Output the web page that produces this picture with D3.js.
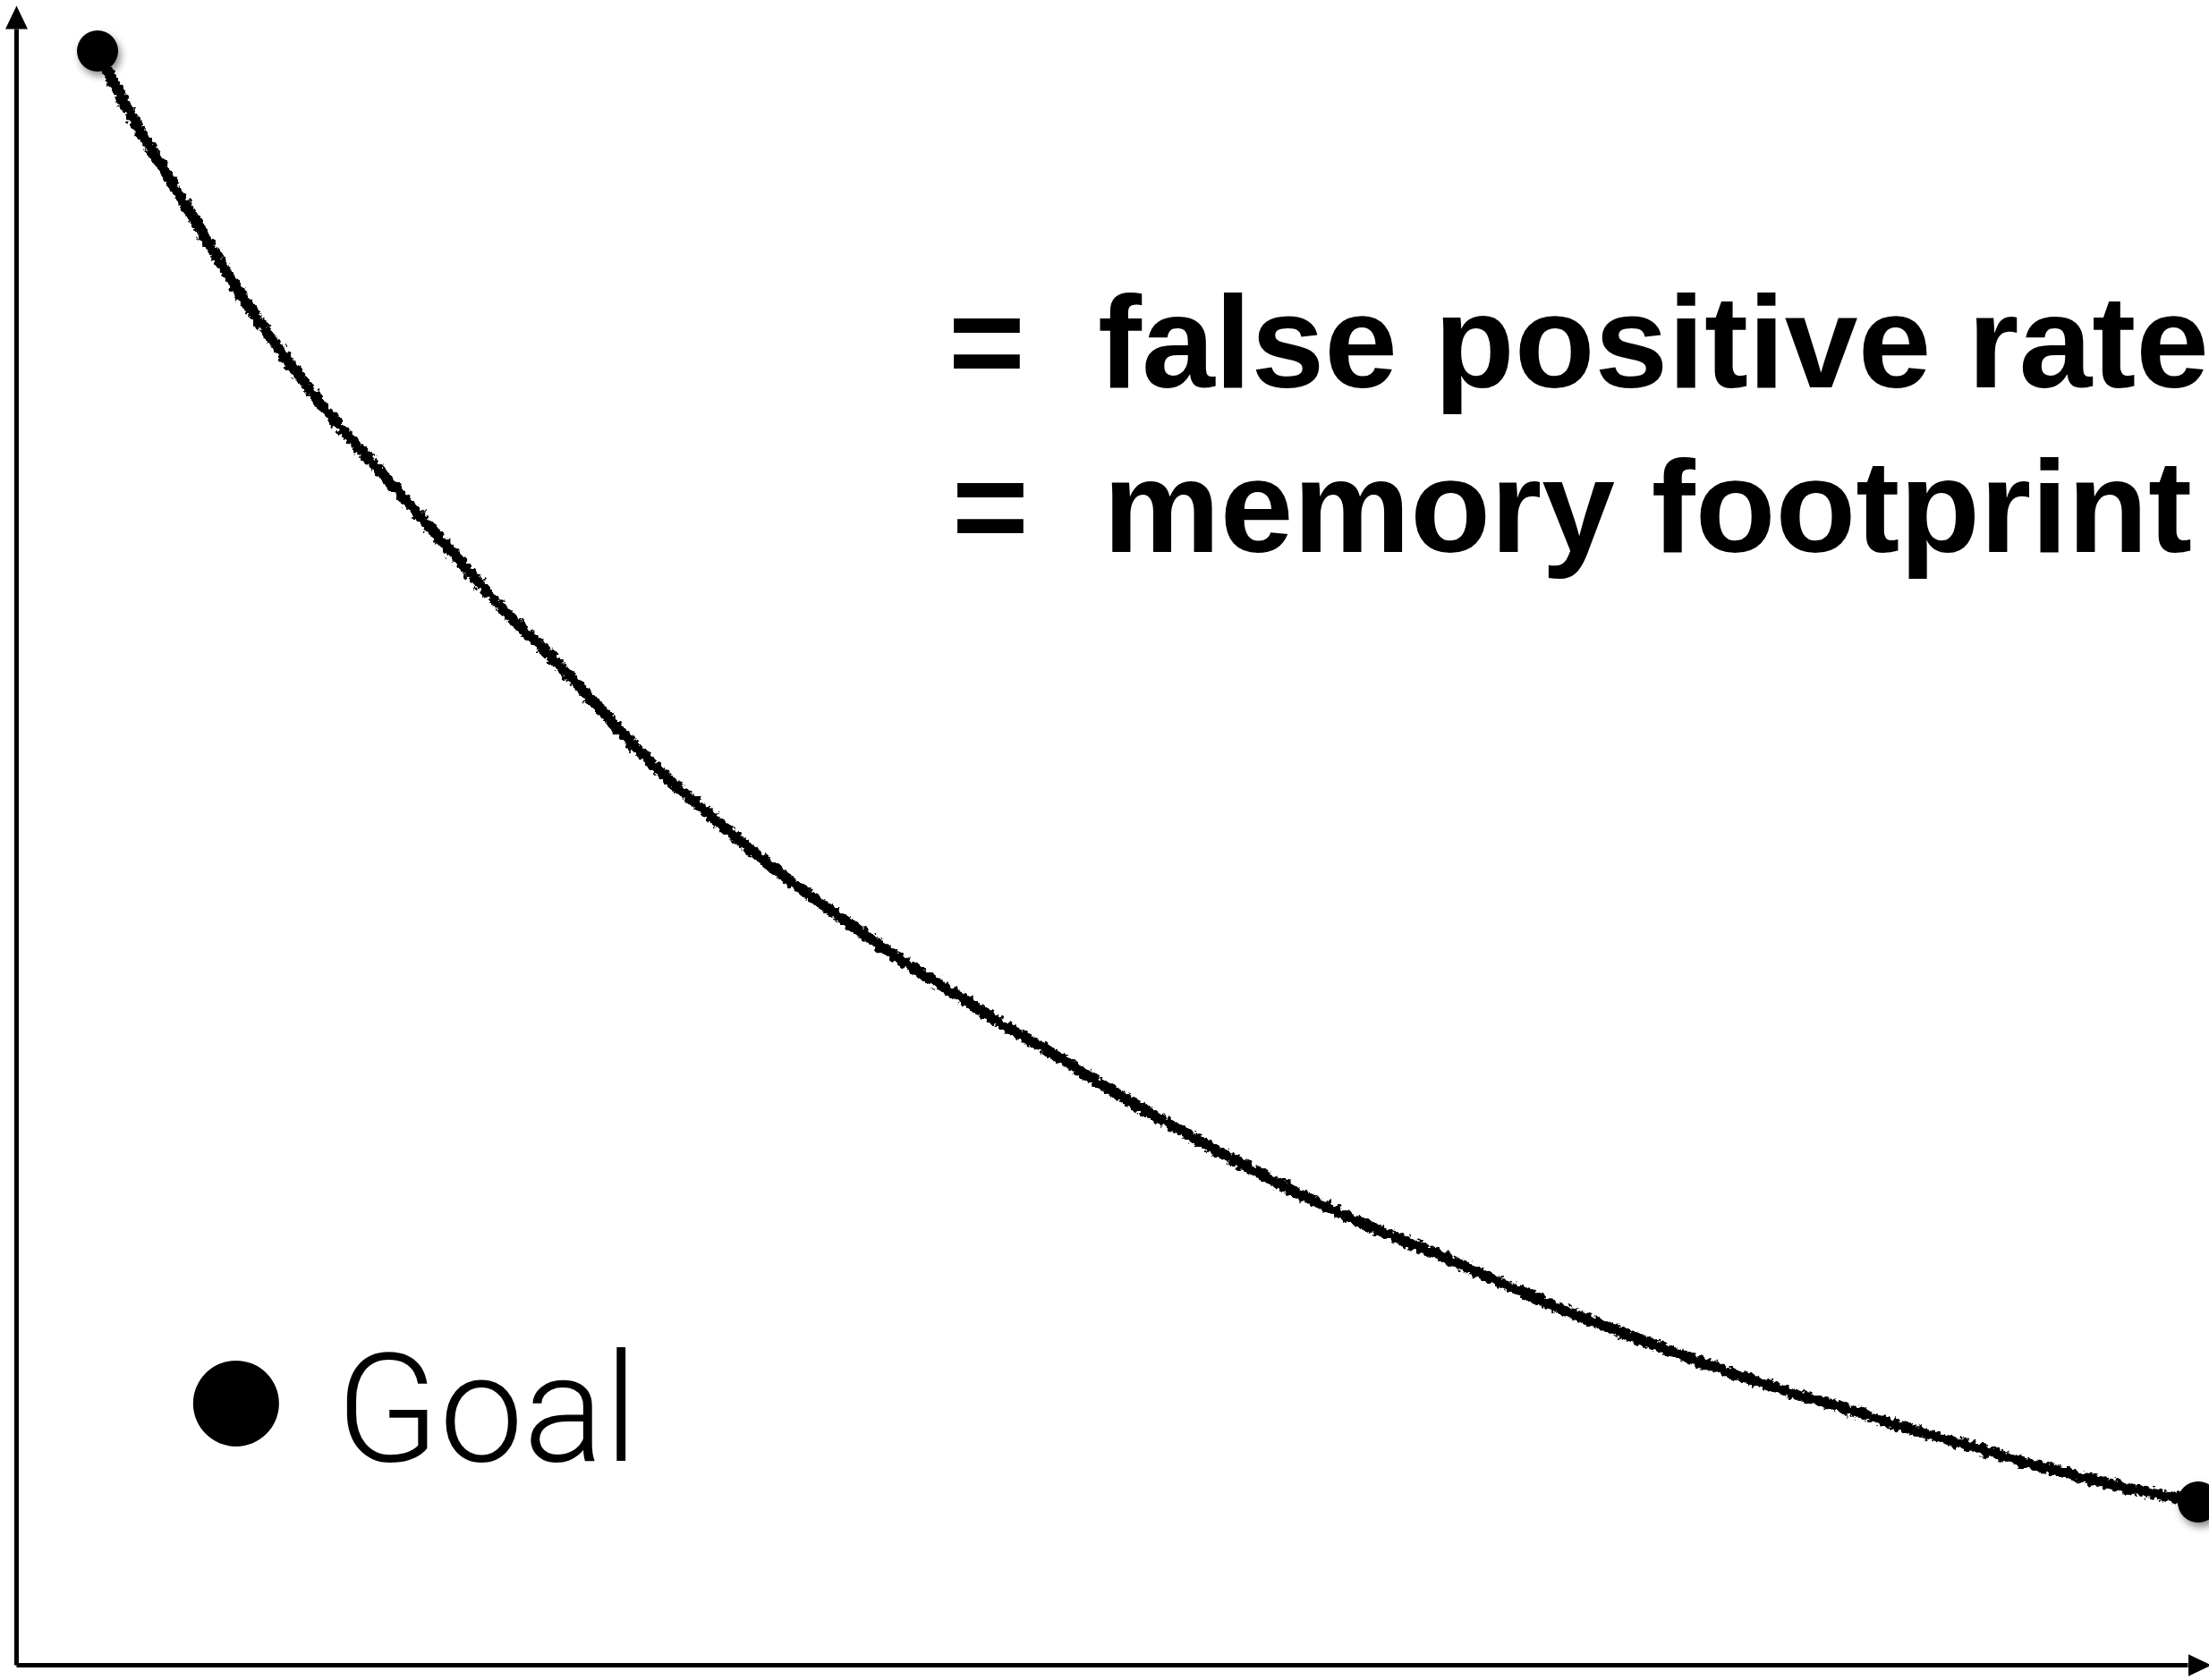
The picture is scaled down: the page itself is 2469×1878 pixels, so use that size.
<!DOCTYPE html>
<html>
<head>
<meta charset="utf-8">
<script src="https://cdn.jsdelivr.net/npm/d3@7"></script>
<style>
  html, body { margin: 0; padding: 0; background: #fff; overflow: hidden; }
  svg { display: block; }
</style>
</head>
<body>
<script>
// ---- data (abstract units, 0..100 on both axes) ----
const curveX = [3.75, 4.61, 5.85, 7.50, 9.15, 10.92, 12.73, 14.38, 16.44, 18.50, 20.97, 22.62, 24.80, 26.74, 29.46, 32.22, 34.98, 37.70, 40.46, 43.22, 45.41, 47.34, 50.06, 52.82, 55.58, 58.30, 61.06, 63.82, 65.93, 67.94, 70.66, 73.42, 76.18, 78.90, 81.66, 84.43, 87.14, 89.90, 92.67, 95.39, 98.15, 100.49];
const curveY = [98.63, 96.39, 93.44, 89.89, 86.28, 82.61, 79.33, 76.49, 73.43, 70.37, 66.65, 64.24, 61.40, 58.61, 54.84, 51.61, 48.61, 45.93, 43.36, 41.01, 39.15, 37.67, 35.43, 33.24, 31.22, 29.31, 27.56, 25.97, 24.82, 23.62, 22.03, 20.56, 19.19, 17.88, 16.68, 15.58, 14.43, 13.40, 12.30, 11.37, 10.55, 9.95];
const endPoints = [{x: 3.75, y: 98.63}, {x: 100.49, y: 9.95}];
const goalPoint = {x: 10.13, y: 15.97};
const legendLines = ["false positive rate", "memory footprint"];
const goalLabel = "Goal";

const W = 2469, H = 1878;
const svg = d3.select("body").append("svg").attr("width", W).attr("height", H);
svg.append("rect").attr("width", W).attr("height", H).attr("fill", "#fff");

const x = d3.scaleLinear().domain([0, 100]).range([18, 2445]);
const y = d3.scaleLinear().domain([0, 100]).range([1861, 32]);

const defs = svg.append("defs");
defs.append("marker")
  .attr("id", "arrow").attr("markerUnits", "userSpaceOnUse")
  .attr("markerWidth", 30).attr("markerHeight", 30)
  .attr("viewBox", "0 -15 30 30").attr("refX", 0).attr("refY", 0)
  .attr("orient", "auto")
  .append("path").attr("d", "M0,-12.5 L26,0 L0,12.5 Z").attr("fill", "#000");

const rough = defs.append("filter").attr("id", "rough")
  .attr("filterUnits", "userSpaceOnUse").attr("x", 0).attr("y", 0).attr("width", W).attr("height", H);
rough.append("feTurbulence").attr("type", "fractalNoise").attr("baseFrequency", 0.18)
  .attr("numOctaves", 3).attr("seed", 3).attr("result", "noise");
rough.append("feDisplacementMap").attr("in", "SourceGraphic").attr("in2", "noise")
  .attr("scale", 10).attr("xChannelSelector", "R").attr("yChannelSelector", "G");

const shadow = defs.append("filter").attr("id", "shadow")
  .attr("x", "-50%").attr("y", "-50%").attr("width", "200%").attr("height", "200%");
shadow.append("feDropShadow").attr("dx", 3).attr("dy", 5).attr("stdDeviation", 4)
  .attr("flood-color", "#000").attr("flood-opacity", 0.45);

// ---- axes ----
const gx = svg.append("g").attr("transform", `translate(0,${y(0)})`)
  .call(d3.axisBottom(x).ticks(0).tickSizeOuter(0));
const gy = svg.append("g").attr("transform", `translate(${x(0)},0)`)
  .call(d3.axisLeft(y).ticks(0).tickSizeOuter(0));
[gx, gy].forEach(g => {
  g.select(".domain").attr("stroke", "#000").attr("stroke-width", 5)
    .attr("marker-end", "url(#arrow)");
});

// ---- curve ----
const pts = curveX.map((v, i) => ({x: v, y: curveY[i]}));
const line = d3.line().x(d => x(d.x)).y(d => y(d.y)).curve(d3.curveCatmullRom.alpha(0.5));
svg.append("path").datum(pts)
  .attr("d", line)
  .attr("fill", "none").attr("stroke", "#000").attr("stroke-width", 12)
  .attr("stroke-linecap", "round")
  .attr("filter", "url(#rough)");

svg.selectAll("circle.end").data(endPoints).enter().append("circle")
  .attr("class", "end")
  .attr("cx", d => x(d.x)).attr("cy", d => y(d.y)).attr("r", 23)
  .attr("fill", "#000").attr("filter", "url(#shadow)");

// ---- goal ----
svg.append("circle").attr("cx", x(goalPoint.x)).attr("cy", y(goalPoint.y)).attr("r", 48).attr("fill", "#000");
svg.append("text").attr("x", 376).attr("y", 1633)
  .attr("font-family", "Roboto, 'Liberation Sans', Arial, sans-serif")
  .attr("font-weight", 300).attr("font-size", 168).attr("fill", "#000")
  .text(goalLabel);

// ---- legend text ----
const lg = svg.append("g")
  .attr("font-family", "'Liberation Sans', Arial, Helvetica, sans-serif")
  .attr("font-weight", "bold").attr("font-size", 147).attr("fill", "#000");
const rows = [{eqx: 1060, tx: 1227, by: 433}, {eqx: 1064, tx: 1233, by: 617}];
legendLines.forEach((t, i) => {
  lg.append("text").attr("x", rows[i].eqx).attr("y", rows[i].by).text("=");
  lg.append("text").attr("x", rows[i].tx).attr("y", rows[i].by).text(t);
});
</script>
</body>
</html>
